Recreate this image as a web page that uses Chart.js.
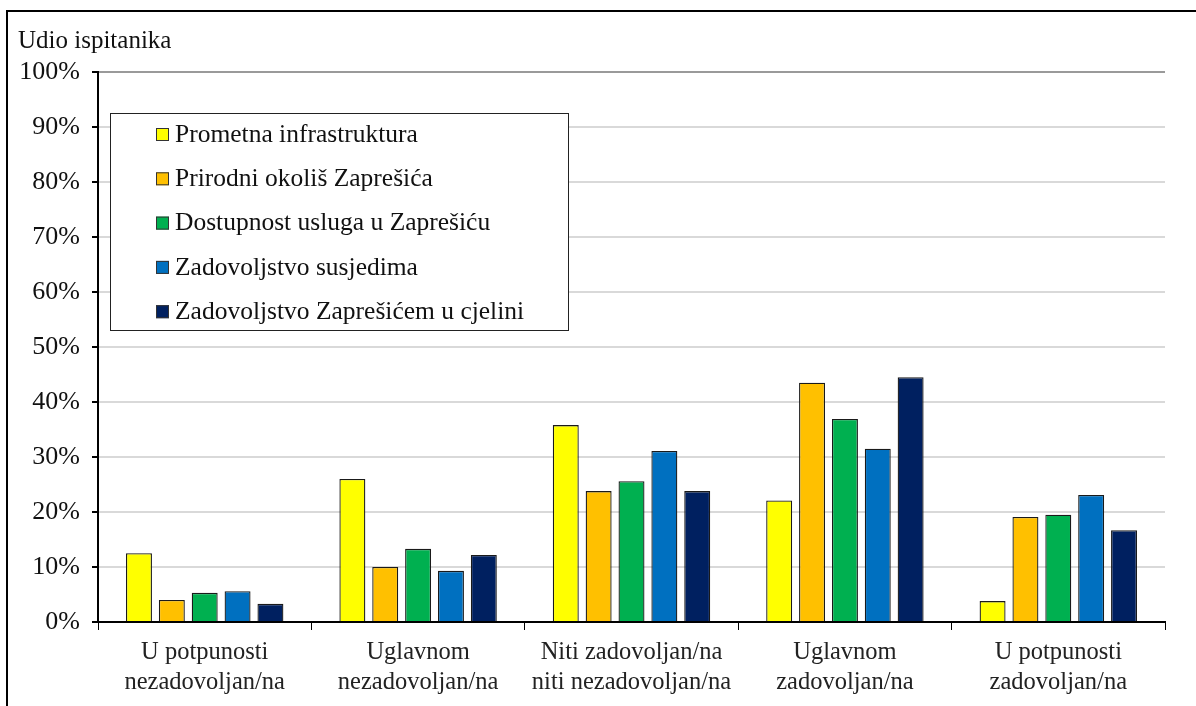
<!DOCTYPE html>
<html>
<head>
<meta charset="utf-8">
<script src="https://cdn.jsdelivr.net/npm/chart.js@4/dist/chart.umd.min.js"></script>
<style>
  html, body { margin: 0; padding: 0; background: #fff; overflow: hidden; }
  #frame { position: absolute; left: 6px; top: 10px; width: 1300px; height: 800px; border: 2px solid #000; }
  #wrap { position: absolute; left: 0; top: 0; width: 1196px; height: 706px; }
</style>
</head>
<body>
<div id="frame"></div>
<div id="wrap"><canvas id="chartcanvas" width="1196" height="706"></canvas></div>
<script>
var categories = [
	["U potpunosti", "nezadovoljan/na"],
	["Uglavnom", "nezadovoljan/na"],
	["Niti zadovoljan/na", "niti nezadovoljan/na"],
	["Uglavnom", "zadovoljan/na"],
	["U potpunosti", "zadovoljan/na"]
];
var seriesNames = [
	"Prometna infrastruktura",
	"Prirodni okoliš Zaprešića",
	"Dostupnost usluga u Zaprešiću",
	"Zadovoljstvo susjedima",
	"Zadovoljstvo Zaprešićem u cjelini"
];
var prometna = [12.5, 26.0, 35.8, 22.1, 3.8];
var prirodni = [4.0, 10.0, 23.8, 43.5, 19.1];
var dostupnost = [5.3, 13.3, 25.6, 36.9, 19.5];
var susjedi = [5.6, 9.3, 31.1, 31.5, 23.1];
var cjelina = [3.3, 12.2, 23.8, 44.5, 16.7];
var seriesColors = ["#FFFF00", "#FFC000", "#00B050", "#0070C0", "#002060"];
var yTicks = [0, 10, 20, 30, 40, 50, 60, 70, 80, 90, 100];
var yTitle = "Udio ispitanika";

var FONT = "'Liberation Serif', 'Times New Roman', serif";

var allSeries = [prometna, prirodni, dostupnost, susjedi, cjelina];
var datasets = [];
for (var i = 0; i < allSeries.length; i++) {
	datasets.push({
		label: seriesNames[i],
		data: allSeries[i],
		backgroundColor: seriesColors[i],
		borderColor: "#1a1a1a",
		borderWidth: 1.3,
		categoryPercentage: 0.77,
		barPercentage: 0.79
	});
}

// axis caption at top-left and legend box drawn inside the plot area
var boxLegend = {
	id: "boxLegend",
	afterDraw: function(chart) {
		var ctx = chart.ctx;
		var a = chart.chartArea;
		ctx.save();
		ctx.font = "25px " + FONT;
		ctx.fillStyle = "#111";
		ctx.textBaseline = "middle";
		ctx.fillText(yTitle, 18, 41);

		var x = a.left + 12, y = a.top + 41, w = 458, h = 217;
		ctx.fillStyle = "#fff";
		ctx.fillRect(x, y, w, h);
		ctx.strokeStyle = "#222";
		ctx.lineWidth = 1;
		ctx.strokeRect(x + 0.5, y + 0.5, w, h);
		ctx.font = "25.5px " + FONT;
		for (var i = 0; i < seriesNames.length; i++) {
			var cy = y + 21 + i * 44.3;
			ctx.fillStyle = seriesColors[i];
			ctx.fillRect(x + 46, cy - 6, 13, 13);
			ctx.strokeStyle = "#333";
			ctx.strokeRect(x + 46.5, cy - 5.5, 12, 12);
			ctx.fillStyle = "#111";
			ctx.fillText(seriesNames[i], x + 65, cy + 1);
		}
		ctx.restore();
	}
};

var ctx = document.getElementById("chartcanvas").getContext("2d");
var myChart = new Chart(ctx, {
	type: "bar",
	data: { labels: categories, datasets: datasets },
	options: {
		responsive: false,
		animation: false,
		layout: { padding: { top: 72, right: 31, left: 0, bottom: 0 } },
		plugins: {
			legend: { display: false },
			tooltip: { enabled: false },
			title: { display: false }
		},
		scales: {
			x: {
				grid: {
					offset: true,
					drawOnChartArea: true,
					color: function(c) { return c.index === categories.length ? "#808080" : "rgba(0,0,0,0)"; },
					tickColor: "#000",
					tickLength: 8,
					lineWidth: 1
				},
				border: { display: true, color: "#000", width: 2 },
				ticks: {
					color: "#222",
					padding: 8,
					maxRotation: 0,
					font: { family: FONT, size: 24.5, lineHeight: 1.2 }
				},
				afterFit: function(scale) { scale.height = 84; }
			},
			y: {
				min: 0,
				max: 100,
				afterBuildTicks: function(scale) {
					scale.ticks = yTicks.map(function(v) { return { value: v }; });
				},
				grid: {
					color: function(c) { return c.tick.value === 100 ? "#9a9a9a" : "#d9d9d9"; },
					lineWidth: 2,
					tickColor: "#000",
					tickLength: 6
				},
				border: { display: true, color: "#000", width: 2 },
				ticks: {
					color: "#111",
					padding: 12,
					font: { family: FONT, size: 26 },
					callback: function(v) { return v + "%"; }
				},
				afterFit: function(scale) { scale.width = 98; }
			}
		}
	},
	plugins: [boxLegend]
});
</script>
</body>
</html>
